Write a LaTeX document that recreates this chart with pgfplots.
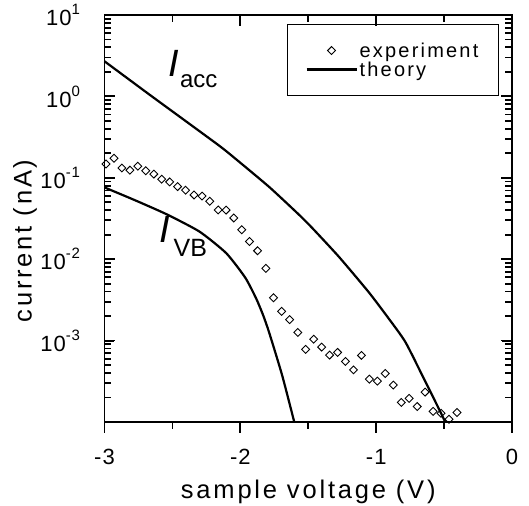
\documentclass[border=0pt]{standalone}
\usepackage{fontspec}
\setmainfont{Liberation Sans}
\newfontfamily\lsfont[LetterSpace=11]{Liberation Sans}
\newfontfamily\tkfont[LetterSpace=5]{Liberation Sans}
\usepackage{pgfplots}
\pgfplotsset{compat=1.18}
\newcommand{\ticksfont}{\tkfont\fontsize{22bp}{24bp}\selectfont}
\newcommand{\labelfont}{\lsfont\fontsize{25.5bp}{28bp}\selectfont}
\newcommand{\legfont}{\lsfont\fontsize{20bp}{23bp}\selectfont}
\newcommand{\ex}[1]{\raisebox{11bp}{\fontsize{15bp}{15bp}\selectfont #1}}
\pgfplotsset{
  legmark/.style={legend image code/.code={\draw[mark repeat=2,mark phase=2,##1] plot coordinates {(0bp,0bp) (25bp,0bp) (50bp,0bp)};}},
  legline/.style={legend image code/.code={\draw[##1] (0bp,0bp) -- (50bp,0bp);}},
}
\tikzset{tk/.style={draw=black, line width=1.8bp, line cap=rect}}

\pgfplotstableread{
V I
-2.989 0.148
-2.930 0.174
-2.872 0.132
-2.813 0.124
-2.755 0.139
-2.696 0.122
-2.637 0.111
-2.579 0.0962
-2.520 0.0891
-2.462 0.0780
-2.403 0.0704
-2.341 0.0616
-2.282 0.0596
-2.225 0.0515
-2.163 0.0403
-2.105 0.0401
-2.048 0.0321
-1.990 0.0230
-1.932 0.0165
-1.873 0.0127
-1.812 0.00773
-1.756 0.00336
-1.696 0.00229
-1.637 0.00181
-1.577 0.00126
-1.519 0.00078
-1.460 0.00104
-1.401 0.000832
-1.343 0.000664
-1.284 0.000716
-1.226 0.000555
-1.167 0.000437
-1.108 0.000658
-1.050 0.000336
-0.991 0.000318
-0.933 0.000395
-0.874 0.000284
-0.815 0.000174
-0.757 0.000195
-0.698 0.000155
-0.640 0.000233
-0.581 0.000135
-0.522 0.000128
-0.464 0.000108
-0.405 0.000131
}\expdata

\pgfplotstableread{
V I
-3.000 2.70
-2.667 1.046
-2.425 0.530
-2.154 0.247
-2.044 0.176
-1.788 0.0773
-1.568 0.0352
-1.473 0.0244
-1.275 0.01074
-1.055 0.00394
-0.908 0.00187
-0.784 0.000955
-0.639 0.000316
-0.560 0.000172
-0.491 0.000100
}\iacc

\pgfplotstableread{
V I
-3.000 0.0762
-2.773 0.0528
-2.542 0.0356
-2.300 0.0218
-2.103 0.01183
-1.963 0.00591
-1.883 0.00328
-1.832 0.00205
-1.788 0.00126
-1.692 0.000374
-1.603 0.000100
}\ivb

\begin{document}
\begin{tikzpicture}
% bottom axis: labels
\begin{axis}[
  at={(0,0)}, anchor=south west, scale only axis,
  width=407.5bp, height=407bp,
  xmin=-3, xmax=0, ymin=0, ymax=1,
  clip=false,
  hide y axis, axis x line*=bottom,
  x axis line style={-, line width=1.6bp},
  tick align=outside,
  xtick={-3,-2,-1,0}, minor xtick={-2.5,-1.5,-0.5},
  xticklabels={-3,-2,-1,0},
  tickwidth=10bp, subtickwidth=6bp,
  every tick/.append style={black, line width=1.8bp},
  xticklabel style={font=\ticksfont, yshift=-14bp},
  xlabel={sample voltage (V)}, xlabel style={font=\labelfont, yshift=-8bp},
]
\end{axis}
\begin{axis}[
  at={(0,0)}, anchor=south west, scale only axis,
  width=407.5bp, height=407bp,
  xmin=-3, xmax=0, ymode=log, ymin=1e-4, ymax=10,
  clip=false,
  axis line style={line width=1.6bp},
  tick align=inside,
  xtick pos=right,
  xtick={-3,-2,-1,0}, minor xtick={-2.5,-1.5,-0.5}, xticklabels={},
  ytick={1e-3,1e-2,1e-1,1,10},
  yticklabels={10\ex{-3},10\ex{-2},10\ex{-1},10\ex{0},10\ex{1}},
  minor ytick={2e-4,3e-4,4e-4,5e-4,6e-4,7e-4,8e-4,9e-4,
               2e-3,3e-3,4e-3,5e-3,6e-3,7e-3,8e-3,9e-3,
               2e-2,3e-2,4e-2,5e-2,6e-2,7e-2,8e-2,9e-2,
               0.2,0.3,0.4,0.5,0.6,0.7,0.8,0.9,
               2,3,4,5,6,7,8,9},
  tickwidth=10bp, subtickwidth=6bp,
  every tick/.append style={black, line width=1.8bp},
  yticklabel style={font=\ticksfont, xshift=-21bp},
  ylabel={current (nA)}, ylabel style={font=\labelfont, at={(ticklabel cs:0.445)}, inner sep=0pt},
  legend style={at={(0.968,0.978)}, anchor=north east, draw=black, line width=1.2bp,
    font=\legfont, inner xsep=18bp, inner ysep=16bp, row sep=-1bp},
  legend cell align=left,
]
\addplot[only marks, mark=square, mark size=2.8bp, mark options={rotate=45, line width=0.9bp, fill=white, draw=black}, legmark]
  table[x=V, y=I] {\expdata};
\addlegendentry{experiment}
\addplot[black, line width=2.2bp, smooth, tension=0.35, legline]
  table[x=V, y=I] {\iacc};
\addlegendentry{theory}
\addplot[black, line width=2.2bp, smooth, tension=0.35, forget plot]
  table[x=V, y=I] {\ivb};
\node[anchor=base west, inner sep=0] at (axis cs:-2.53,1.74)
  {\fontsize{38bp}{40bp}\selectfont\textit{I}\hspace{1bp}\fontsize{24bp}{26bp}\selectfont\raisebox{-11bp}{acc}};
\node[anchor=base west, inner sep=0] at (axis cs:-2.60,0.0159)
  {\fontsize{38bp}{40bp}\selectfont\textit{I}\hspace{4bp}\fontsize{25bp}{26bp}\selectfont\raisebox{-14bp}{VB}};
\end{axis}
% tick marks on the frame (axis box 407.5bp x 407bp at the origin)
\foreach \t in {0,1,2,3}{
  \path[tk] (\t*135.8333bp,0) -- (\t*135.8333bp,-10bp);
}
\foreach \t in {1,2}{
  \path[tk] (\t*135.8333bp,407bp) -- (\t*135.8333bp,397bp);
}
\foreach \t in {0.5,1.5,2.5}{
  \path[tk] (\t*135.8333bp,0) -- (\t*135.8333bp,-6bp);
  \path[tk] (\t*135.8333bp,407bp) -- (\t*135.8333bp,401bp);
}
\foreach \k in {1,2,3,4}{
  \path[tk] (0,\k*81.4bp) -- (10bp,\k*81.4bp);
  \path[tk] (407.5bp,\k*81.4bp) -- (397.5bp,\k*81.4bp);
}
\foreach \k in {0,1,2,3,4}{
  \foreach \m in {2,...,9}{
    \pgfmathsetmacro{\yy}{(\k+log10(\m))*81.4}
    \path[tk] (0,\yy bp) -- (6bp,\yy bp);
    \path[tk] (407.5bp,\yy bp) -- (401.5bp,\yy bp);
  }
}
\pgfresetboundingbox
\path[use as bounding box] (-104.5bp,-84bp) rectangle (424.5bp,422bp);
\end{tikzpicture}
\end{document}
